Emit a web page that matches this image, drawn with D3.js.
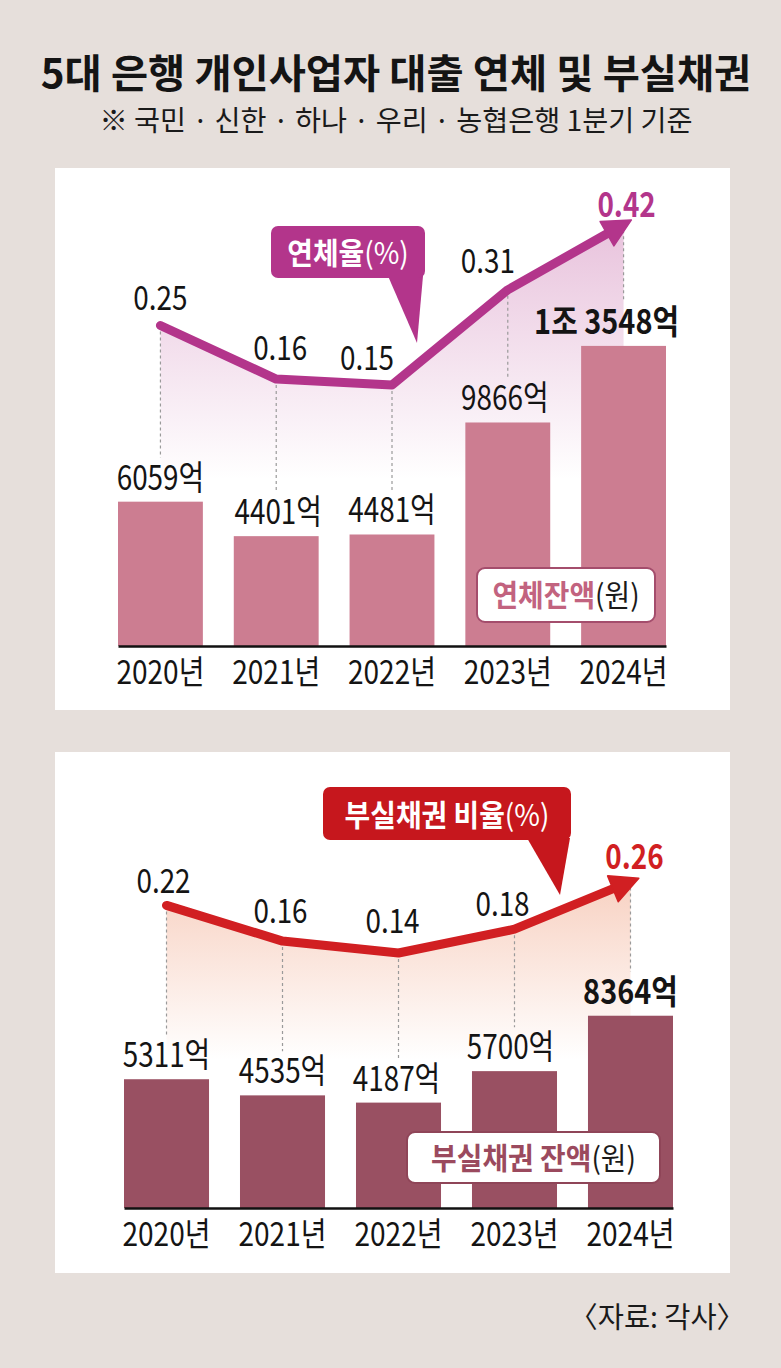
<!DOCTYPE html>
<html>
<head>
<meta charset="utf-8">
<script src="https://cdn.jsdelivr.net/npm/d3@7"></script>
<style>
  body { margin: 0; background: #e6dfdb; }
  svg { display: block; }
</style>
</head>
<body>
<div id="chart"></div>
<script>
// chart values
const years = ['2020년', '2021년', '2022년', '2023년', '2024년'];
const overdueRate = [0.25, 0.16, 0.15, 0.31, 0.42];
const overdueAmount = [6059, 4401, 4481, 9866, 13548];
const overdueAmountLabels = ['6059억', '4401억', '4481억', '9866억', '1조 3548억'];
const badRate = [0.22, 0.16, 0.14, 0.18, 0.26];
const badAmount = [5311, 4535, 4187, 5700, 8364];
const badAmountLabels = ['5311억', '4535억', '4187억', '5700억', '8364억'];

const width = 781, height = 1368;
const FONT = '"Noto Sans CJK KR", "Noto Sans", sans-serif';

const svg = d3.select('#chart').append('svg')
    .attr('width', width)
    .attr('height', height)
    .style('font-family', FONT);

svg.append('rect').attr('width', width).attr('height', height).attr('fill', '#e6dfdb');
const defs = svg.append('defs');

// text with a horizontal squeeze, the original uses a condensed face
function addText(parent, x, y, parts, o = {}) {
    const t = parent.append('text')
        .attr('transform', `translate(${x},${y}) scale(${o.sx ?? 0.82},1)`)
        .attr('text-anchor', o.anchor || 'middle')
        .attr('font-size', o.size || 34)
        .attr('fill', o.fill || '#141414');
    (Array.isArray(parts) ? parts : [{ t: parts }]).forEach(p => {
        t.append('tspan')
            .text(p.t)
            .attr('font-weight', p.w || o.weight || 400)
            .attr('fill', p.c || o.fill || '#141414');
    });
    return t;
}

// title
addText(svg, 396, 88, '5대 은행 개인사업자 대출 연체 및 부실채권', { size: 40, weight: 700, sx: 1.01 });
addText(svg, 396, 131, '※ 국민 · 신한 · 하나 · 우리 · 농협은행 1분기 기준', { size: 28, sx: 1.01, fill: '#1a1a1a' });

function drawPanel(cfg) {
    const g = svg.append('g');
    g.append('rect')
        .attr('x', 55).attr('y', cfg.top)
        .attr('width', 675).attr('height', cfg.bottom - cfg.top)
        .attr('fill', '#fff');

    const x = d3.scaleBand().domain(years).range(cfg.barRange).paddingInner(0.267).paddingOuter(0);
    const cx = d => x(d) + x.bandwidth() / 2;
    const yBar = d3.scaleLinear().domain([-880, 14000]).range([cfg.axisY, cfg.axisY - 309.5]);
    const yRate = d3.scaleLinear().domain(cfg.rateDomain).range(cfg.rateRange);

    const pts = years.map((d, i) => [cx(d), yRate(cfg.rate[i])]);

    // soft gradient under the line
    const gid = 'grad' + cfg.id;
    const grad = defs.append('linearGradient').attr('id', gid)
        .attr('gradientUnits', 'userSpaceOnUse')
        .attr('x1', 0).attr('x2', 0)
        .attr('y1', d3.min(pts, p => p[1])).attr('y2', cfg.areaBottom);
    grad.append('stop').attr('offset', 0).attr('stop-color', cfg.areaColor).attr('stop-opacity', cfg.areaOpacity);
    grad.append('stop').attr('offset', 1).attr('stop-color', cfg.areaColor).attr('stop-opacity', 0);

    const area = d3.area().x(p => p[0]).y0(cfg.areaBottom).y1(p => p[1]);
    g.append('path').attr('d', area(pts)).attr('fill', `url(#${gid})`);

    const labelY = cfg.amount.map(v => yBar(v) - 12);

    // dashed drop lines
    g.selectAll('.drop').data(years).join('line')
        .attr('x1', d => cx(d)).attr('x2', d => cx(d))
        .attr('y1', (d, i) => pts[i][1])
        .attr('y2', (d, i) => labelY[i] - 32)
        .attr('stroke', '#9a9a9a')
        .attr('stroke-width', 1.2)
        .attr('stroke-dasharray', '3,3');

    // bars
    g.selectAll('.bar').data(years).join('rect')
        .attr('x', d => x(d))
        .attr('y', (d, i) => yBar(cfg.amount[i]))
        .attr('width', x.bandwidth())
        .attr('height', (d, i) => cfg.axisY - yBar(cfg.amount[i]))
        .attr('fill', cfg.barColor);

    // x axis
    const ax = g.append('g')
        .attr('transform', `translate(0,${cfg.axisY})`)
        .call(d3.axisBottom(x).tickSize(0).tickSizeOuter(0).tickPadding(0));
    ax.select('.domain').attr('stroke', '#111').attr('stroke-width', 2.5);
    ax.selectAll('text')
        .attr('y', 38).attr('dy', 0)
        .attr('font-size', 33)
        .attr('font-family', FONT)
        .attr('fill', '#141414')
        .attr('transform', 'scale(0.85,1)');

    // amount labels
    cfg.amountLabels.forEach((s, i) => {
        const last = i === years.length - 1;
        addText(g, cx(years[i]) + cfg.amountDx[i], labelY[i], s,
            { weight: last ? 700 : 400, sx: last ? 0.85 : 0.82 });
    });

    // rate line with arrow head
    const p3 = pts[3], p4 = pts[4];
    const len = Math.hypot(p4[0] - p3[0], p4[1] - p3[1]);
    const ux = (p4[0] - p3[0]) / len, uy = (p4[1] - p3[1]) / len;
    const tip = [p4[0] + ux * 9, p4[1] + uy * 9];
    const base = [tip[0] - ux * 28, tip[1] - uy * 28];
    const linePts = pts.slice(0, 4).concat([[base[0] + ux * 3, base[1] + uy * 3]]);
    g.append('path')
        .attr('d', d3.line()(linePts))
        .attr('fill', 'none')
        .attr('stroke', cfg.lineColor)
        .attr('stroke-width', 9)
        .attr('stroke-linecap', 'round')
        .attr('stroke-linejoin', 'round');
    const hw = 14;
    g.append('path')
        .attr('d', d3.line()([
            tip,
            [base[0] - uy * hw, base[1] + ux * hw],
            [base[0] + uy * hw, base[1] - ux * hw]
        ]) + 'Z')
        .attr('fill', cfg.lineColor)
        .attr('stroke', cfg.lineColor)
        .attr('stroke-width', 1.5)
        .attr('stroke-linejoin', 'round');

    // rate labels
    cfg.rate.forEach((v, i) => {
        const last = i === years.length - 1;
        addText(g, pts[i][0] + cfg.rateOffset[i][0], pts[i][1] + cfg.rateOffset[i][1], v.toFixed(2),
            { weight: last ? 700 : 400, fill: last ? cfg.lineColor : '#141414' });
    });

    // callout
    const c = cfg.callout;
    g.append('path')
        .attr('d', d3.line()(c.tail) + 'Z')
        .attr('fill', c.fill);
    g.append('rect')
        .attr('x', c.x).attr('y', c.y)
        .attr('width', c.w).attr('height', c.h)
        .attr('rx', 7)
        .attr('fill', c.fill);
    addText(g, c.x + c.w / 2, c.baseline, c.parts, { size: 30, sx: 0.93, fill: '#fff' });

    // bar legend box
    const l = cfg.legend;
    g.append('rect')
        .attr('x', l.x).attr('y', l.y)
        .attr('width', l.w).attr('height', l.h)
        .attr('rx', 8)
        .attr('fill', '#fff')
        .attr('stroke', l.stroke)
        .attr('stroke-width', 2);
    addText(g, l.x + l.w / 2, l.baseline, l.parts, { size: 30, sx: 0.93 });
}

drawPanel({
    id: 1, top: 168, bottom: 710, axisY: 646, barRange: [118, 666],
    rate: overdueRate, amount: overdueAmount, amountLabels: overdueAmountLabels,
    rateDomain: [0.15, 0.42], rateRange: [385, 385 - 0.27 * 595],
    barColor: '#cc7d91', lineColor: '#b3358b',
    areaColor: '#b3358b', areaOpacity: 0.3, areaBottom: 480,
    rateOffset: [[0, -16], [4, -19], [-25, -15], [-20, -17], [3, -7]],
    amountDx: [0, 2, 0, -3, -17],
    callout: {
        x: 271, y: 226, w: 154, h: 52, baseline: 264, fill: '#b3358b',
        tail: [[388, 276], [423, 276], [417, 343]],
        parts: [{ t: '연체율', w: 700, c: '#fff' }, { t: '(%)', c: '#fff' }]
    },
    legend: {
        x: 477, y: 568, w: 178, h: 54, baseline: 606, stroke: '#a44d6c',
        parts: [{ t: '연체잔액', w: 700, c: '#c2637f' }, { t: '(원)', c: '#1a1a1a' }]
    }
});

drawPanel({
    id: 2, top: 752, bottom: 1273, axisY: 1208, barRange: [124, 673],
    rate: badRate, amount: badAmount, amountLabels: badAmountLabels,
    rateDomain: [0.14, 0.26], rateRange: [953, 953 - 0.12 * 595],
    barColor: '#995062', lineColor: '#d11f22',
    areaColor: '#ef9a78', areaOpacity: 0.45, areaBottom: 1060,
    rateOffset: [[-3, -12], [-2, -18], [-6, -20], [-12, -13], [4, -13]],
    amountDx: [0, 0, -2, -4, 0],
    callout: {
        x: 323, y: 787, w: 248, h: 53, baseline: 826, fill: '#c6171d',
        tail: [[527, 838], [570, 838], [560, 895]],
        parts: [{ t: '부실채권 비율', w: 700, c: '#fff' }, { t: '(%)', c: '#fff' }]
    },
    legend: {
        x: 407, y: 1132, w: 253, h: 51, baseline: 1169, stroke: '#8f4558',
        parts: [{ t: '부실채권 잔액', w: 700, c: '#9b4a5e' }, { t: '(원)', c: '#1a1a1a' }]
    }
});

// source
addText(svg, 745, 1328, '〈자료: 각사〉', { size: 29, sx: 0.98, anchor: 'end', fill: '#1a1a1a' });
</script>
</body>
</html>
